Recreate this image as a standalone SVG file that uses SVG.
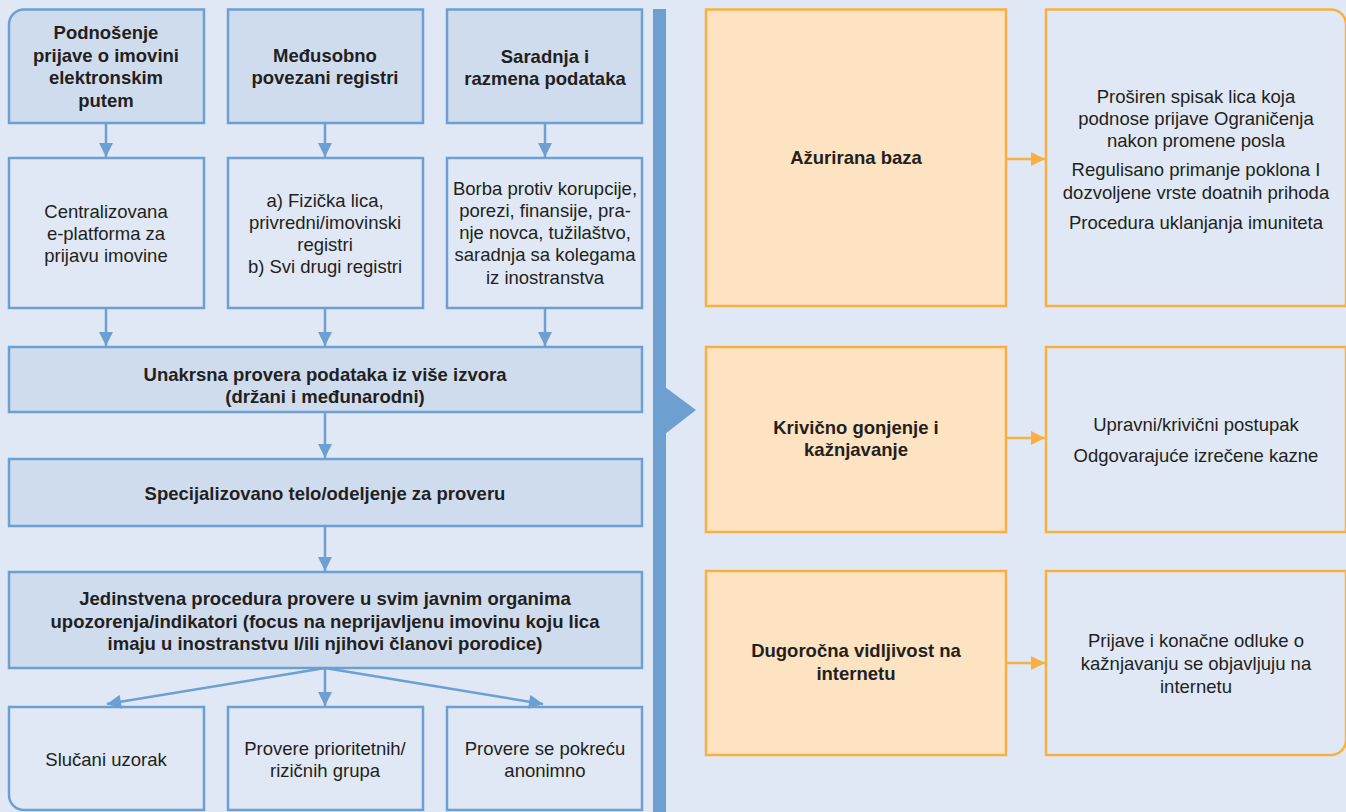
<svg xmlns="http://www.w3.org/2000/svg" width="1346" height="812" viewBox="0 0 1346 812">
<style>
text{font-family:"Liberation Sans",Arial,sans-serif;font-size:18.5px;fill:#231f20;text-anchor:middle}
.b{font-weight:bold}
.hd{fill:#cfdcee;stroke:#6e9fd1;stroke-width:2.5}
.bx{fill:#dfe8f4;stroke:#6e9fd1;stroke-width:2.5}
.ob{fill:#fde3c1;stroke:#f9b042;stroke-width:2.5}
.rb{fill:#dfe8f4;stroke:#f9b042;stroke-width:2.5}
.c{stroke:#6e9fd1;stroke-width:2.5;fill:none;marker-end:url(#ab)}
.co{stroke:#f9b042;stroke-width:2.5;fill:none;marker-end:url(#ao)}
</style>
<defs>
<marker id="ab" viewBox="0 0 10 10" refX="10" refY="5" markerUnits="userSpaceOnUse" markerWidth="16" markerHeight="14" orient="auto"><path d="M0,0L10,5L0,10z" fill="#6e9fd1"/></marker>
<marker id="ao" viewBox="0 0 10 10" refX="10" refY="5" markerUnits="userSpaceOnUse" markerWidth="18" markerHeight="14" orient="auto"><path d="M0,0L10,5L0,10z" fill="#f9b042"/></marker>
</defs>
<rect width="1346" height="812" fill="#dfe8f4"/>
<g id="divider">
<rect x="653" y="9" width="13" height="803" fill="#6e9fd1"/>
<path d="M665,387L696,410L665,434z" fill="#6e9fd1"/>
</g>
<g id="n1"><path class="hd" d="M24,9.5H204V123H9V24.5A15,15 0 0 1 24,9.5z"/>
<text class="b" x="106" y="39">Podnošenje</text><text class="b" x="106" y="62">prijave o imovini</text><text class="b" x="106" y="84">elektronskim</text><text class="b" x="106" y="107">putem</text></g>
<g id="n2"><rect class="hd" x="228" y="9.5" width="195" height="113.5"/>
<text class="b" x="325" y="62">Međusobno</text><text class="b" x="325" y="84">povezani registri</text></g>
<g id="n3"><rect class="hd" x="447" y="9.5" width="195" height="113.5"/>
<text class="b" x="545" y="63">Saradnja i</text><text class="b" x="545" y="85">razmena podataka</text></g>
<g id="n4"><rect class="bx" x="9" y="158" width="195" height="150"/>
<text x="106" y="218">Centralizovana</text><text x="106" y="240">e-platforma za</text><text x="106" y="262">prijavu imovine</text></g>
<g id="n5"><rect class="bx" x="228" y="158" width="195" height="150"/>
<text x="325" y="207">a) Fizička lica,</text><text x="325" y="229">privredni/imovinski</text><text x="325" y="251">registri</text><text x="325" y="273">b) Svi drugi registri</text></g>
<g id="n6"><rect class="bx" x="447" y="158" width="195" height="150"/>
<text x="545" y="195">Borba protiv korupcije,</text><text x="545" y="217">porezi, finansije, pra-</text><text x="545" y="239">nje novca, tužilaštvo,</text><text x="545" y="261">saradnja sa kolegama</text><text x="545" y="284">iz inostranstva</text></g>
<g id="n7"><rect class="hd" x="9" y="347" width="633" height="65"/>
<text class="b" x="325" y="381">Unakrsna provera podataka iz više izvora</text><text class="b" x="325" y="403">(držani i međunarodni)</text></g>
<g id="n8"><rect class="hd" x="9" y="459" width="633" height="67"/>
<text class="b" x="325" y="500">Specijalizovano telo/odeljenje za proveru</text></g>
<g id="n9"><rect class="hd" x="9" y="572" width="633" height="96"/>
<text class="b" x="325" y="605">Jedinstvena procedura provere u svim javnim organima</text><text class="b" x="325" y="628">upozorenja/indikatori (focus na neprijavljenu imovinu koju lica</text><text class="b" x="325" y="650">imaju u inostranstvu I/ili njihovi članovi porodice)</text></g>
<g id="n10"><path class="bx" d="M9,707H204V810H24A15,15 0 0 1 9,795z"/>
<text x="106" y="766">Slučani uzorak</text></g>
<g id="n11"><rect class="bx" x="228" y="707" width="195" height="103"/>
<text x="325" y="755">Provere prioritetnih/</text><text x="325" y="777">rizičnih grupa</text></g>
<g id="n12"><rect class="bx" x="447" y="707" width="195" height="103"/>
<text x="545" y="755">Provere se pokreću</text><text x="545" y="777">anonimno</text></g>
<g id="r1"><rect class="ob" x="706" y="9.5" width="300" height="296.5"/>
<text class="b" x="856" y="164">Ažurirana baza</text></g>
<g id="r2"><path class="rb" d="M1046,9.5H1331A15,15 0 0 1 1346,24.5V306H1046z"/>
<text x="1196" y="103">Proširen spisak lica koja</text><text x="1196" y="125">podnose prijave Ograničenja</text><text x="1196" y="147">nakon promene posla</text><text x="1196" y="176">Regulisano primanje poklona I</text><text x="1196" y="199">dozvoljene vrste doatnih prihoda</text><text x="1196" y="229">Procedura uklanjanja imuniteta</text></g>
<g id="r3"><rect class="ob" x="706" y="347" width="300" height="185"/>
<text class="b" x="856" y="434">Krivično gonjenje i</text><text class="b" x="856" y="456">kažnjavanje</text></g>
<g id="r4"><rect class="rb" x="1046" y="347" width="300" height="185"/>
<text x="1196" y="431">Upravni/krivični postupak</text><text x="1196" y="462">Odgovarajuće izrečene kazne</text></g>
<g id="r5"><rect class="ob" x="706" y="571" width="300" height="184"/>
<text class="b" x="856" y="657">Dugoročna vidljivost na</text><text class="b" x="856" y="680">internetu</text></g>
<g id="r6"><path class="rb" d="M1046,571H1346V740A15,15 0 0 1 1331,755H1046z"/>
<text x="1196" y="647">Prijave i konačne odluke o</text><text x="1196" y="670">kažnjavanju se objavljuju na</text><text x="1196" y="693">internetu</text></g>
<g id="connectors">
<line class="c" x1="106" y1="123" x2="106" y2="157"/>
<line class="c" x1="325" y1="123" x2="325" y2="157"/>
<line class="c" x1="545" y1="123" x2="545" y2="157"/>
<line class="c" x1="106" y1="308" x2="106" y2="346"/>
<line class="c" x1="325" y1="308" x2="325" y2="346"/>
<line class="c" x1="545" y1="308" x2="545" y2="346"/>
<line class="c" x1="325" y1="412" x2="325" y2="458"/>
<line class="c" x1="325" y1="526" x2="325" y2="571"/>
<line class="c" x1="325" y1="668" x2="325" y2="706"/>
<line class="c" x1="325" y1="668" x2="107" y2="704"/>
<line class="c" x1="325" y1="668" x2="543" y2="704"/>
<line class="co" x1="1006" y1="159" x2="1045" y2="159"/>
<line class="co" x1="1006" y1="438" x2="1045" y2="438"/>
<line class="co" x1="1006" y1="663" x2="1045" y2="663"/>
</g>
</svg>
